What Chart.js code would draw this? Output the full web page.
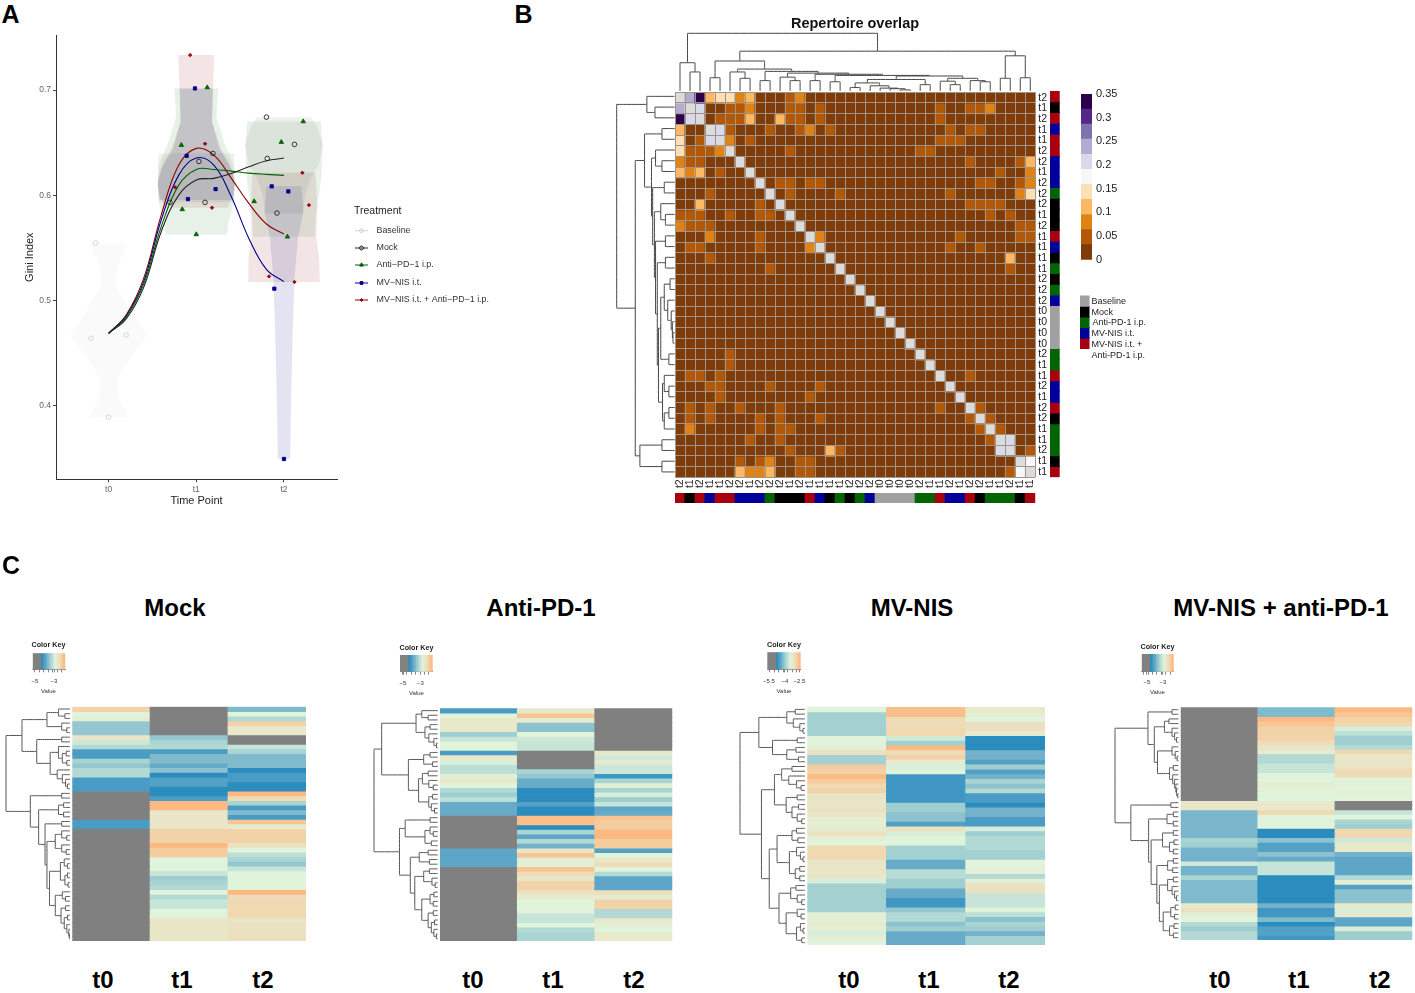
<!DOCTYPE html>
<html>
<head>
<meta charset="utf-8">
<title>Repertoire figure</title>
<script src="https://cdn.jsdelivr.net/npm/chart.js@4"></script>
<style>
  html, body { margin: 0; padding: 0; background: #fff; }
  body { position: relative; width: 1415px; height: 993px; overflow: hidden; font-family: "Liberation Sans", Arial, sans-serif; }
  canvas { position: absolute; }
  .note { position: absolute; white-space: nowrap; line-height: 1; color: #000; }
</style>
</head>
<body>
<script>
// ---------- panel A: Gini index ----------
const timeLabels = ['t0', 't1', 't2'];
const giniTicks = [0.4, 0.5, 0.6, 0.7];
const legendNames = ['Baseline', 'Mock', 'Anti\u2212PD\u22121 i.p.', 'MV\u2212NIS i.t.', 'MV\u2212NIS i.t. + Anti\u2212PD\u22121 i.p.'];

const baselinePoints = [[-0.15, 0.5546], [-0.2, 0.464], [0.2, 0.4672], [0, 0.389]];
const mockPoints = [[0.7, 0.5933], [1.03, 0.6322], [1.19, 0.6398], [1.1, 0.5933], [1.8, 0.6743], [2.12, 0.6484], [1.81, 0.635], [1.92, 0.5831]];
const antiPoints = [[1.125, 0.7025], [0.83, 0.6477], [0.84, 0.5866], [1.0, 0.5628], [2.22, 0.6702], [1.97, 0.6506], [1.66, 0.5942], [2.04, 0.5606]];
const mvPoints = [[0.985, 0.7016], [0.89, 0.6376], [1.22, 0.6059], [0.905, 0.5964], [1.86, 0.6085], [2.05, 0.6037], [1.89, 0.5112], [2.0, 0.3493]];
const comboPoints = [[0.93, 0.7333], [1.1, 0.649], [0.76, 0.6075], [1.18, 0.5882], [2.21, 0.6214], [2.285, 0.5907], [1.83, 0.5229], [2.12, 0.5176]];

const curveX = [0, 0.2, 0.4, 0.6, 0.8, 1, 1.2, 1.4, 1.6, 1.8, 2];
const mockCurve = [0.4688, 0.4824, 0.5125, 0.5654, 0.6002, 0.6145, 0.6161, 0.6208, 0.6271, 0.6328, 0.6354];
const antiCurve = [0.4688, 0.484, 0.5156, 0.5701, 0.6097, 0.6246, 0.6246, 0.623, 0.6211, 0.6199, 0.6189];
const mvCurve = [0.4688, 0.4852, 0.5179, 0.5765, 0.6192, 0.6354, 0.6287, 0.5986, 0.559, 0.5296, 0.5179];
const comboCurve = [0.4688, 0.4862, 0.521, 0.5812, 0.6287, 0.6446, 0.6382, 0.6161, 0.5923, 0.5727, 0.5632];

// violins: [gini, half width in time units]
const violinBaseT0 = [[0.5546, 0.22], [0.53, 0.09], [0.512, 0.09], [0.49, 0.25], [0.467, 0.44], [0.44, 0.2], [0.425, 0.09], [0.41, 0.1], [0.389, 0.22]];
const violinMockT1 = [[0.6398, 0.43], [0.625, 0.44], [0.61, 0.44], [0.5933, 0.43]];
const violinAntiT1 = [[0.7016, 0.25], [0.675, 0.23], [0.65, 0.32], [0.63, 0.42], [0.61, 0.44], [0.59, 0.42], [0.575, 0.37], [0.5628, 0.35]];
const violinMvT1 = [[0.7016, 0.19], [0.67, 0.18], [0.645, 0.26], [0.625, 0.4], [0.61, 0.44], [0.5955, 0.42]];
const violinComboT1 = [[0.7333, 0.205], [0.7, 0.19], [0.67, 0.18], [0.645, 0.28], [0.63, 0.38], [0.6145, 0.44], [0.6, 0.42], [0.5882, 0.36]];
const violinMockT2 = [[0.6743, 0.31], [0.665, 0.38], [0.648, 0.445], [0.63, 0.4], [0.615, 0.3], [0.6, 0.24], [0.5828, 0.22]];
const violinAntiT2 = [[0.6702, 0.42], [0.648, 0.44], [0.62, 0.43], [0.6, 0.4], [0.58, 0.36], [0.5606, 0.35]];
const violinMvT2 = [[0.6085, 0.2], [0.583, 0.22], [0.56, 0.16], [0.52, 0.12], [0.47, 0.1], [0.4, 0.08], [0.3494, 0.07]];
const violinComboT2 = [[0.6214, 0.36], [0.59, 0.38], [0.56, 0.37], [0.54, 0.4], [0.525, 0.41], [0.5176, 0.41]];

// ---------- panel B: repertoire overlap ----------
const sampleTimes = ['t2','t1','t2','t1','t1','t2','t2','t1','t2','t2','t2','t1','t2','t1','t1','t1','t1','t2','t2','t2','t0','t0','t0','t0','t2','t1','t1','t2','t1','t2','t2','t1','t1','t2','t1','t1'];
const sampleGroups = ['combo','mock','combo','mv','combo','combo','mv','mv','mv','anti','mock','mock','mock','combo','mv','mock','anti','mock','anti','mv','base','base','base','base','anti','anti','combo','mv','mv','combo','mock','anti','anti','anti','mock','combo'];
const overlapBackground = 0.015;
// [row, [col, value], ...] for every cell that is not background
const overlapRows = [
  [0, [1,.24],[2,.34],[3,.11],[4,.14],[5,.14],[6,.08],[7,.11],[11,.05],[12,.08]],
  [1, [0,.24],[2,.2],[5,.05],[6,.05],[7,.08],[11,.05],[12,.05],[14,.05],[26,.05],[29,.05],[30,.05],[31,.08]],
  [2, [0,.34],[1,.2],[4,.05],[5,.05],[6,.05],[7,.11],[10,.11],[11,.05],[12,.05],[14,.05],[26,.05]],
  [3, [0,.11],[4,.2],[5,.05],[9,.05],[12,.05],[13,.08],[15,.05],[27,.05],[29,.05],[30,.05]],
  [4, [0,.14],[2,.05],[3,.2],[5,.08],[7,.05],[26,.05],[27,.05],[28,.05]],
  [5, [0,.14],[1,.05],[2,.05],[3,.05],[4,.08],[11,.05],[24,.05],[25,.05]],
  [6, [0,.08],[1,.05],[2,.05],[29,.05],[34,.05],[35,.11]],
  [7, [0,.11],[1,.08],[2,.11],[4,.05],[32,.05],[35,.08]],
  [8, [10,.05],[11,.05],[13,.05],[14,.05],[30,.05],[31,.05],[34,.05],[35,.08]],
  [9, [3,.05],[11,.05],[16,.05],[27,.05],[34,.08],[35,.14]],
  [10, [2,.11],[8,.05],[29,.05],[30,.05],[31,.05],[32,.05]],
  [11, [0,.05],[1,.05],[2,.05],[5,.05],[8,.05],[9,.05],[31,.05],[33,.05]],
  [12, [0,.08],[1,.05],[2,.05],[3,.05],[34,.05],[35,.05]],
  [13, [3,.08],[8,.05],[14,.08],[28,.05],[34,.05],[35,.05]],
  [14, [1,.05],[2,.05],[8,.05],[13,.08],[27,.05],[30,.05]],
  [15, [3,.05],[33,.11]],
  [16, [9,.05],[33,.05]],
  [24, [5,.05]],
  [25, [5,.05]],
  [26, [1,.05],[2,.05],[4,.05],[29,.05]],
  [27, [3,.05],[4,.05],[9,.05],[14,.05]],
  [28, [4,.05],[13,.05]],
  [29, [1,.05],[3,.05],[6,.05],[10,.05],[26,.05],[30,.05]],
  [30, [1,.05],[3,.05],[8,.05],[10,.05],[14,.05],[29,.05],[31,.05]],
  [31, [1,.08],[8,.05],[10,.05],[11,.05],[30,.05],[32,.05]],
  [32, [7,.05],[10,.05],[31,.05],[33,.2]],
  [33, [11,.05],[15,.11],[16,.05],[32,.2],[35,.05]],
  [34, [6,.05],[8,.05],[9,.08],[12,.05],[13,.05],[35,.17]],
  [35, [6,.11],[7,.08],[8,.08],[9,.11],[12,.05],[13,.05],[33,.05],[34,.17]]
];
const overlapTicks = [0, 0.05, 0.1, 0.15, 0.2, 0.25, 0.3, 0.35];
const overlapColors = ['#7f3b08','#b35806','#e08214','#fdb863','#fee0b6','#f7f7f7','#d8daeb','#b2abd2','#8073ac','#542788','#2d004b'];
const groupKeys = ['base', 'mock', 'anti', 'mv', 'combo'];

// dendrograms: [height, left, right], 0 is a leaf
const overlapLeftTree = [100, [48,0,[34,0,0]],
  [68,
    [52, [22,0,0],
      [40, [33,0,[22,0,0]],
        [38, [18,0,0],
          [35, [24,0,[16,0,0]],
            [33, [16,0,0],
              [30, [16,0,0],
                [28,
                  [24, [18,[8,0,0],[12,0,[6,0,[4,0,[3,0,0]]]]], [10,0,0]],
                  [21, [18,0,[10,0,0]], [18,[10,0,0],0]]
                ]]]]]]],
    [60, [22,0,0], [22,0,0]]]];
const overlapTopTree = [100, [49,0,[33,0,0]],
  [69,
    [52, [23,0,0],
      [38, [33,0,[22,0,0]],
        [34, [18,0,0],
          [31, [24,0,[18,0,0]],
            [29, [18,0,0],
              [27, [16,0,0],
                [26,
                  [20, [14,[6,0,0],[9,0,[5,0,[4,0,[2,0,0]]]]], [11,0,0]],
                  [22, [17,0,[11,0,0]], [18,0,[16,0,0]]]
                ]]]]]]],
    [61, [22,0,0], [23,0,0]]]];

// ---------- panel C: clonotype heatmaps, null is the grey "absent" colour ----------
const _ = null;
const mockT0 = [-2.7,-3.2,-3.1,-4,-4,-4,-2.9,-3.4,-3.7,-4.7,
  -4.7,-3.8,-4,-3.7,-3.7,-4.7,-4.7,-4.7,_,_,
  _,_,_,_,-4.7,-4.7,_,_,_,_,
  _,_,_,_,_,_,_,_,_,_,
  _,_,_,_,_,_,_,_,_,_];
const mockT1 = [_,_,_,_,_,_,-4,-3.8,-3.7,-4.7,
  -4.2,-4.2,-4.4,-4.1,-5,-4.6,-4.6,-5,-5,-4.7,
  -2.5,-2.5,-2.9,-2.9,-2.9,-2.9,-2.7,-2.7,-2.7,-2.5,
  -2.65,-2.65,-3.2,-3.2,-3.2,-3.5,-3.9,-3.8,-3.7,-3.2,
  -3.7,-3.5,-3.5,-3.2,-3.2,-2.9,-2.9,-2.9,-2.9,-2.9];
const mockT2 = [-4.2,-3.2,-3.7,-2.7,-2.95,-2.95,_,_,-3.5,-3.8,
  -4.2,-4.2,-4.2,-5,-4.7,-4.7,-5,-5,-2.5,-2.8,
  -3.8,-4.7,-4.2,-4.7,-2.6,-3,-2.7,-2.7,-2.7,-2.85,
  -3.2,-3.6,-3.8,-4,-3.5,-3.2,-3.2,-3.2,-3.2,-2.5,
  -2.8,-2.75,-2.75,-2.75,-2.75,-2.9,-2.85,-2.85,-2.85,-2.85];
const antiT0 = [-4.7,-3.2,-2.95,-2.95,-2.95,-3.9,-3.5,-3.2,-3.2,-4.7,
  -2.95,-3.3,-3.6,-3.6,-3.1,-2.95,-3.2,-3.7,-3.9,-3.6,
  -4.4,-4.4,-4.4,_,_,_,_,_,_,_,
  -4.5,-4.5,-4.5,-4.5,_,_,_,_,_,_,
  _,_,_,_,_,_,_,_,_,_];
const antiT1 = [-2.95,-2.6,-3,-4.1,-4.1,-3.2,-3.4,-3.5,-3.5,_,
  _,_,_,-3.8,-4,-4.4,-4.4,-5,-5,-5,
  -4.6,-5,-5,-2.55,-2.55,-5,-3.8,-4.5,-3.7,-4.3,
  -2.9,-2.6,-3.1,-3.1,-2.6,-2.8,-2.9,-2.7,-2.7,-2.85,
  -3,-3.2,-3.2,-3.2,-3.5,-3.5,-3.2,-3.7,-3.8,-3.8];
const antiT2 = [_,_,_,_,_,_,_,_,_,-2.95,
  -3.4,-3,-3.45,-3.45,-4.8,-3.8,-3.1,-3.8,-3.3,-3.9,
  -3.5,-4.5,-4.4,-2.6,-2.65,-2.65,-2.5,-2.5,-2.65,-2.65,
  -4.6,-3.2,-2.9,-2.8,-3.2,-3.7,-4.5,-4.5,-4.5,-2.85,
  -3,-2.7,-2.7,-3.7,-3.7,-2.95,-3.1,-3.2,-2.95,-2.95];
const mvT0 = [-3.2,-3.85,-3.85,-3.85,-3.85,-3.85,-3.2,-3.2,-3.1,-2.85,
  -3.85,-3.85,-2.65,-2.7,-2.5,-2.65,-2.75,-2.7,-2.9,-2.9,
  -2.9,-2.85,-2.9,-3.05,-3.05,-3,-2.85,-3.05,-3.2,-2.75,
  -2.75,-2.75,-2.9,-2.9,-2.9,-2.9,-3.3,-3.85,-3.85,-3.85,
  -3.85,-3.85,-3.85,-3.1,-3.1,-3,-3.1,-3.3,-3.05,-3.2];
const mvT1 = [-2.55,-2.55,-2.8,-2.8,-2.75,-2.75,-3.4,-3.85,-2.5,-2.8,
  -2.7,-3,-3.3,-3.2,-4.8,-4.8,-4.8,-4.8,-4.8,-4.8,
  -3.9,-3.9,-4.1,-4.1,-4.6,-2.85,-3.3,-3.2,-3.2,-3.85,
  -3.85,-3.85,-4.4,-4.4,-3.65,-3.65,-3.9,-3.9,-4.4,-4.4,
  -4.8,-4.8,-4,-3.7,-3.7,-4.1,-3.9,-4.4,-4.4,-4.4];
const mvT2 = [-2.95,-3.05,-3.2,-2.85,-2.85,-3,-5,-5,-5,-4.3,
  -4.3,-4.6,-3.9,-4.6,-4.3,-3.8,-4.1,-3.7,-4.7,-4.7,
  -5,-4.3,-4.3,-4.7,-4.7,-3.3,-3.9,-3.7,-3.7,-3.7,
  -3.85,-3.85,-3.2,-3.2,-3.1,-3.7,-3.1,-2.85,-2.85,-3.5,
  -3.5,-3.5,-3.2,-3.6,-4.1,-3.8,-3.9,-4.3,-3.85,-3.85];
const comboT0 = [_,_,_,_,_,_,_,_,_,_,
  _,_,_,_,_,_,_,_,_,_,
  -2.9,-2.9,-4.25,-4.25,-4.25,-4.25,-4.25,-4.25,-3.8,-3.85,
  -4.3,-4.3,-4.3,-3.4,-4.3,-4.3,-3.8,-4.2,-4.2,-4.2,
  -4.2,-4.2,-2.95,-2.85,-3.1,-3.2,-3.7,-3.9,-3.7,-3.7];
const comboT1 = [-4.2,-4.2,-2.5,-2.6,-2.7,-2.7,-2.7,-2.8,-2.9,-3,
  -3.7,-3.7,-3.5,-3.5,-3.2,-3.2,-3.05,-3.15,-3.2,-3.2,
  -2.95,-2.95,-2.75,-3.2,-3.2,-3.2,-5,-5,-4.1,-4.6,
  -4.6,-4.1,-4.4,-3.5,-3.5,-3.5,-5,-5,-5,-5,
  -5,-5,-4.3,-4.8,-4.8,-4.2,-5,-4.6,-4.6,-4.8];
const comboT2 = [-2.5,-2.6,-2.7,-2.75,-3.3,-3.6,-3.9,-3.9,-3.7,-2.75,
  -2.9,-2.9,-2.9,-2.8,-2.8,-3.15,-3.15,-3.2,-3.1,-3.2,
  _,_,-3.5,-3.2,-3.8,-3.9,-2.75,-2.75,-3.4,-2.95,
  -2.95,-4.3,-4.5,-4.5,-4.5,-4.5,-3.7,-3.1,-4.6,-4.1,
  -4.1,-4.1,-2.95,-3.3,-3,-4.5,-4.5,-3.3,-3.9,-3.9];

const keyLevels = [_,_,_,_,_,_,-5,-4.8,-4.6,-4.4,-4.2,-4,-3.8,-3.6,-3.4,-3.2,-3,-2.9,-2.8,-2.7,-2.6,-2.5];

const mockTree = [100,
  [75, [36,[18,0,[8,0,0]],[13,0,[5,0,0]]],
    [52, [13,0,0], [31,[18,0,[12,[6,0,0],[5,0,0]]],[20,0,[12,0,[7,0,[4,0,0]]]]]]],
  [62, [13,0,0],
    [49, [18,[10,0,0],[10,0,0]],
      [39, [13,0,0],
        [36, [23,[13,0,[5,0,0]],[13,0,[6,0,0]]],
          [32, [15,[9,0,[4,0,0]],[8,[4,0,0],[3,0,0]]],
            [23, [12,0,[7,0,0]], [14,[7,0,0],[9,[4,0,0],[5,0,[2,0,[1,0,0]]]]]]]]]]]];
const antiTree = [100,
  [88, [34,[25,0,[15,0,0]],[20,[12,0,0],[14,0,[6,0,[2,0,0]]]]],
    [46, [22,[12,0,0],[8,0,0]],
      [30, [24,[15,0,0],[14,0,[7,0,0]]], [14,[8,0,0],[10,0,[5,0,0]]]]]],
  [60, [51,[12,0,0],[20,[12,0,[7,0,0]],[10,0,0]]],
    [43, [29,[15,0,0],[13,0,0]],
      [36, [22,[13,0,0],[9,0,[4,0,0]]],
        [25, [12,[6,0,0],[7,0,0]], [15,[7,0,0],[10,[5,0,0],[6,0,[2,0,0]]]]]]]]];
const mvTree = [100,
  [71, [28,[15,0,0],[18,0,[8,0,[3,0,0]]]],
    [50, [12,0,0], [28,[14,0,0],[10,0,0]]]],
  [67, [47, [36,[20,0,0],[25,0,[13,0,[6,0,0]]]], [29,[12,0,0],[20,[10,0,0],[12,0,[5,0,0]]]]],
    [55, [43, [20,[13,0,0],[11,0,0]], [24,[13,0,[7,0,[3,0,0]]],[15,[8,0,0],[8,0,0]]]],
      [40, [22,[14,0,0],[12,0,[5,0,0]]], [29,[12,0,[6,0,0]],[13,[7,0,[3,0,0]],[5,0,0]]]]]]];
const comboTree = [100,
  [48, [10,0,0],
    [38, [22,[15,0,0],[10,0,[6,0,[3,0,0]]]],
      [33, [10,0,[5,0,[2,0,0]]], [14,[8,0,0],[9,0,[6,0,[4,0,[3,0,[1,0,0]]]]]]]]],
  [75, [12,0,0],
    [47, [18,[8,0,0],[8,0,0]],
      [43, [25,[8,0,0],[14,[7,0,0],[8,0,0]]],
        [34, [17,[8,0,0],[9,0,0]],
          [30, [17,[8,0,0],[10,0,[6,0,[3,0,0]]]],
            [24,[12,[5,0,0],[6,0,0]],[14,[7,0,0],[8,0,0]]]]]]]]];

// ---------- styles ----------
const FONT = '"Liberation Sans", Arial, sans-serif';
Chart.defaults.font.family = FONT;
Chart.defaults.responsive = false;
Chart.defaults.animation = false;
Chart.defaults.plugins.legend.display = false;
Chart.defaults.plugins.tooltip.enabled = false;

const groupColors = { base: '#a0a0a0', mock: '#000000', anti: '#006400', mv: '#00009b', combo: '#a8000f' };
const NA_OVERLAP = '#dcdcdc';
const GRID = '#9f948a';
const ABSENT = '#808080';
const levelStops = [[-5,[43,140,190]],[-4.7,[74,156,197]],[-4.4,[104,171,201]],[-4.1,[140,193,207]],[-3.8,[168,212,210]],
  [-3.5,[198,228,216]],[-3.2,[224,243,219]],[-2.9,[233,230,200]],[-2.7,[242,211,168]],[-2.5,[253,185,130]]];

function levelColor(v) {
  if (v === null) return ABSENT;
  for (let i = 1; i < levelStops.length; i++) {
    if (v <= levelStops[i][0]) {
      const [a, ca] = levelStops[i - 1], [b, cb] = levelStops[i];
      const t = (v - a) / (b - a);
      return 'rgb(' + ca.map((c, k) => Math.round(c + (cb[k] - c) * t)).join(',') + ')';
    }
  }
  return 'rgb(253,185,130)';
}
function overlapColor(v) {
  if (v === null) return NA_OVERLAP;
  return overlapColors[Math.min(10, Math.floor(v / (0.35 / 11)))];
}

// ---------- helpers ----------
// rect is the plot area in page pixels; axes is the room kept for axes, outer a margin round them
function makeCanvas(rect, axes, outer) {
  const ax = Object.assign({ l: 0, t: 0, r: 0, b: 0 }, axes);
  const ou = Object.assign({ l: 2, t: 2, r: 2, b: 2 }, outer);
  const left = Math.floor(rect.x - ax.l - ou.l), top = Math.floor(rect.y - ax.t - ou.t);
  const w = Math.ceil(rect.x + rect.w + ax.r + ou.r) - left, h = Math.ceil(rect.y + rect.h + ax.b + ou.b) - top;
  const c = document.createElement('canvas');
  c.width = w; c.height = h;
  c.style.left = left + 'px'; c.style.top = top + 'px';
  c.style.width = w + 'px'; c.style.height = h + 'px';
  document.body.appendChild(c);
  return { canvas: c, padding: {
    left: rect.x - ax.l - left, top: rect.y - ax.t - top,
    right: left + w - (rect.x + rect.w + ax.r), bottom: top + h - (rect.y + rect.h + ax.b) } };
}
function note(text, x, y, css, anchor) {
  const d = document.createElement('div');
  d.className = 'note';
  d.textContent = text;
  d.style.cssText = 'left:' + x + 'px;top:' + y + 'px;transform:translate(' + (anchor === 'l' ? '0' : '-50%') + ',-50%);' + (css || '');
  document.body.appendChild(d);
}
function pts(pairs) { return pairs.map(p => ({ x: p[0], y: p[1] })); }

// rows of colours as a stacked bar chart, every cell one unit tall
function cellChart(rect, rows, extra) {
  extra = extra || {};
  const c = makeCanvas(rect, extra.axes, extra.outer);
  return new Chart(c.canvas, {
    type: 'bar',
    data: {
      labels: extra.xLabels || rows[0].map((v, i) => i),
      datasets: rows.map(colors => ({
        data: colors.map(() => 1), backgroundColor: colors, borderWidth: 0, inflateAmount: 0.5,
        barPercentage: 1, categoryPercentage: 1, stack: 's'
      }))
    },
    options: {
      layout: { padding: c.padding },
      scales: Object.assign({
        x: { stacked: true, display: false },
        y: { stacked: true, display: false, reverse: true, min: 0, max: rows.length }
      }, extra.scales || {})
    }
  });
}

function treeChart(rect, tree, side, color) {
  const segs = [];
  let leaf = 0;
  (function walk(n) {
    if (n === 0) return { pos: leaf++, h: 0 };
    const a = walk(n[1]), b = walk(n[2]);
    segs.push([a.pos, a.h], [a.pos, n[0]], [b.pos, n[0]], [b.pos, b.h], [NaN, NaN]);
    return { pos: (a.pos + b.pos) / 2, h: n[0] };
  })(tree);
  const leafAxis = { display: false, min: -0.5, max: leaf - 0.5 };
  const heightAxis = { display: false, min: 0, max: 100 };
  const isLeft = side === 'left';
  const c = makeCanvas(rect);
  return new Chart(c.canvas, {
    type: 'scatter',
    data: { datasets: [{
      data: segs.map(s => isLeft ? { x: s[1], y: s[0] } : { x: s[0], y: s[1] }),
      showLine: true, pointRadius: 0, borderColor: color, borderWidth: 1, tension: 0.0001, clip: false
    }] },
    options: {
      layout: { padding: c.padding },
      scales: isLeft
        ? { x: Object.assign({ reverse: true }, heightAxis), y: Object.assign({ reverse: true }, leafAxis) }
        : { x: leafAxis, y: heightAxis }
    }
  });
}

// ---------- panel A ----------
function violin(center, shape, color) {
  const right = shape.map(s => ({ x: center + s[1], y: s[0] }));
  const left = shape.slice().reverse().map(s => ({ x: center - s[1], y: s[0] }));
  return { data: right.concat(left), showLine: true, fill: 'shape', pointRadius: 0, borderWidth: 0, backgroundColor: color, borderColor: 'transparent' };
}
const treatments = [
  { points: baselinePoints, curve: null, color: '#d2d2d2', style: 'circle', r: 2.3, fill: 'rgba(0,0,0,0)' },
  { points: mockPoints, curve: mockCurve, color: '#222222', style: 'circle', r: 2.3, fill: 'rgba(0,0,0,0)' },
  { points: antiPoints, curve: antiCurve, color: '#006400', style: 'triangle', r: 2.6, fill: '#006400' },
  { points: mvPoints, curve: mvCurve, color: '#00008b', style: 'rect', r: 2.3, fill: '#00008b' },
  { points: comboPoints, curve: comboCurve, color: '#8b0000', style: 'rectRot', r: 1.7, fill: '#a8000f' }
];
const violinFills = { base: 'rgba(120,120,120,0.04)', mock: 'rgba(0,0,0,0.06)', anti: 'rgba(0,100,0,0.09)', mv: 'rgba(0,0,139,0.11)', combo: 'rgba(139,0,0,0.1)' };

const legendMarks = {
  id: 'legendMarks',
  afterDraw(chart) {
    const ctx = chart.ctx, off = chart.canvas.getBoundingClientRect();
    const rows = [230.7, 248, 265, 283, 300];
    ctx.save();
    ctx.font = '10.5px ' + FONT;
    ctx.fillStyle = '#222';
    ctx.textBaseline = 'middle';
    ctx.fillText('Treatment', 354 - off.left, 211.5 - off.top);
    ctx.font = '8.9px ' + FONT;
    rows.forEach((y, i) => {
      const t = treatments[i], py = y - off.top;
      ctx.strokeStyle = t.color;
      ctx.lineWidth = 1;
      ctx.beginPath(); ctx.moveTo(355 - off.left, py); ctx.lineTo(368 - off.left, py); ctx.stroke();
      ctx.fillStyle = t.fill;
      Chart.helpers.drawPoint(ctx, { pointStyle: t.style, radius: t.r * 0.85, borderWidth: 1, rotation: 0 }, 361.5 - off.left, py);
      ctx.fillStyle = '#333';
      ctx.fillText(legendNames[i], 376.5 - off.left, py);
    });
    ctx.restore();
  }
};

(function drawPanelA() {
  const rect = { x: 56, y: 35, w: 281, h: 444.3 };
  const c = makeCanvas(rect, { l: 33, b: 28 }, { r: 170, t: 12 });
  const pointSets = treatments.map(t => ({
    data: pts(t.points), pointStyle: t.style, pointRadius: t.r, pointBorderWidth: 0.9,
    pointBorderColor: t.color, pointBackgroundColor: t.fill, order: 0
  }));
  const curves = treatments.filter(t => t.curve).map(t => ({
    data: t.curve.map((y, i) => ({ x: curveX[i], y: y })),
    showLine: true, pointRadius: 0, borderColor: t.color, borderWidth: 1.1, tension: 0.4, order: 1
  }));
  const violins = [
    violin(0, violinBaseT0, violinFills.base),
    violin(1, violinMockT1, violinFills.mock), violin(1, violinAntiT1, violinFills.anti),
    violin(1, violinMvT1, violinFills.mv), violin(1, violinComboT1, violinFills.combo),
    violin(2, violinMockT2, violinFills.mock), violin(2, violinAntiT2, violinFills.anti),
    violin(2, violinMvT2, violinFills.mv), violin(2, violinComboT2, violinFills.combo)
  ].map(v => Object.assign(v, { order: 2 }));
  new Chart(c.canvas, {
    type: 'scatter',
    data: { datasets: pointSets.concat(curves, violins) },
    plugins: [legendMarks],
    options: {
      layout: { padding: c.padding },
      scales: {
        x: {
          type: 'linear', min: -0.6, max: 2.605,
          afterBuildTicks(s) { s.ticks = timeLabels.map((t, i) => ({ value: i })); },
          afterFit(s) { s.height = 28; },
          ticks: { font: { size: 8.5 }, color: '#666', padding: 2, callback: v => timeLabels[v] },
          grid: { drawOnChartArea: false, tickLength: 3, tickColor: '#444' },
          border: { color: '#333', width: 1 },
          title: { display: true, text: 'Time Point', font: { size: 11 }, color: '#222', padding: { top: 1, bottom: 0 } }
        },
        y: {
          min: 0.33, max: 0.7524,
          afterBuildTicks(s) { s.ticks = giniTicks.map(v => ({ value: v })); },
          afterFit(s) { s.width = 33; },
          ticks: { font: { size: 8.5 }, color: '#666', padding: 2, callback: v => v.toFixed(1) },
          grid: { drawOnChartArea: false, tickLength: 3, tickColor: '#444' },
          border: { color: '#333', width: 1 },
          title: { display: true, text: 'Gini Index', font: { size: 11 }, color: '#222', padding: { top: 0, bottom: 0 } }
        }
      }
    }
  });
})();

// ---------- panel B ----------
(function drawPanelB() {
  const n = sampleTimes.length;
  const heat = { x: 675, y: 91, w: 360.3, h: 386.3 };
  const values = sampleTimes.map((t, r) => sampleTimes.map((s, k) => (r === k ? null : overlapBackground)));
  overlapRows.forEach(row => row.slice(1).forEach(cell => { values[row[0]][cell[0]] = cell[1]; }));
  const gridOpts = { color: GRID, lineWidth: 1, z: 1, drawTicks: false };

  cellChart(heat, values.map(r => r.map(overlapColor)), {
    xLabels: sampleTimes,
    axes: { r: 14, b: 13 }, outer: { l: 8, t: 8, b: 2, r: 2 },
    scales: {
      x: {
        stacked: true,
        grid: Object.assign({ offset: true }, gridOpts), border: { display: false },
        afterFit(s) { s.height = 13; },
        ticks: { autoSkip: false, minRotation: 90, maxRotation: 90, font: { size: 10.5 }, color: '#222', padding: 2 }
      },
      y: {
        stacked: true, reverse: true, min: 0, max: n,
        grid: gridOpts, border: { display: false },
        ticks: { display: false, stepSize: 1 },
        afterFit(s) { s.width = 0; }
      },
      side: {
        type: 'category', position: 'right', labels: sampleTimes, offset: true,
        grid: { display: false, drawTicks: false }, border: { display: false },
        afterFit(s) { s.width = 14; },
        ticks: { autoSkip: false, font: { size: 10.5 }, color: '#222', padding: 3 }
      }
    }
  });

  treeChart({ x: 616.7, y: 91, w: 58, h: 386.3 }, overlapLeftTree, 'left', '#444');
  treeChart({ x: 675, y: 33.3, w: 360.3, h: 57.7 }, overlapTopTree, 'top', '#444');

  const stripColors = sampleGroups.map(g => groupColors[g]);
  cellChart({ x: 1050, y: 91, w: 9.7, h: 386.3 }, stripColors.map(col => [col]));
  cellChart({ x: 675, y: 493, w: 360.3, h: 10 }, [stripColors]);

  // colour scale
  const binWidth = 0.35 / overlapColors.length;
  const bar = makeCanvas({ x: 1081, y: 94, w: 11, h: 165.7 }, { r: 40 }, { t: 12, b: 12 });
  new Chart(bar.canvas, {
    type: 'bar',
    data: { labels: [''], datasets: overlapColors.map(col => ({ data: [binWidth], backgroundColor: col, barPercentage: 1, categoryPercentage: 1, borderWidth: 0 })) },
    options: {
      layout: { padding: bar.padding },
      scales: {
        x: { stacked: true, display: false },
        y: {
          stacked: true, position: 'right', min: 0, max: 0.35,
          afterBuildTicks(s) { s.ticks = overlapTicks.map(v => ({ value: v })); },
          afterFit(s) { s.width = 40; },
          grid: { display: false, drawTicks: false }, border: { display: false },
          ticks: { font: { size: 11 }, color: '#222', padding: 4, callback: v => String(v) }
        }
      }
    }
  });

  // group legend
  cellChart({ x: 1080, y: 295.5, w: 9.5, h: 53.5 }, groupKeys.map(g => [groupColors[g]]));
  const groupCss = 'font-size:9px;color:#222;';
  note('Baseline', 1091.5, 300.5, groupCss, 'l');
  note('Mock', 1091.5, 311.7, groupCss, 'l');
  note('Anti-PD-1 i.p.', 1092.5, 322, groupCss, 'l');
  note('MV-NIS i.t.', 1091.5, 333, groupCss, 'l');
  note('MV-NIS i.t. +', 1091.5, 343.5, groupCss, 'l');
  note('Anti-PD-1 i.p.', 1091.5, 354.5, groupCss, 'l');

  note('Repertoire overlap', 855, 22.5, 'font-size:14.5px;font-weight:bold;color:#111;');
})();

// ---------- panel C ----------
const heatPanels = [
  { title: 'Mock', titleX: 175, columns: [mockT0, mockT1, mockT2], tree: mockTree,
    heat: { x: 72.3, y: 706.7, w: 233.7, h: 234.3 }, treeLeft: 6, labelXs: [103, 182, 263],
    key: { x: 32.7, y: 653.3, w: 32.6, h: 16 }, keyTitle: [48.5, 645.3], keyTicks: [[1, '\u22125', 35], [14, '\u22123', 54]], keyLabelY: 681, valueY: 691 },
  { title: 'Anti-PD-1', titleX: 541, columns: [antiT0, antiT1, antiT2], tree: antiTree,
    heat: { x: 440, y: 708.3, w: 232.3, h: 232.7 }, treeLeft: 374, labelXs: [473, 553, 634],
    key: { x: 400, y: 655, w: 32.7, h: 16.7 }, keyTitle: [416.5, 647.5], keyTicks: [[2, '\u22125', 403], [13, '\u22123', 420.5]], keyLabelY: 682.5, valueY: 692.5 },
  { title: 'MV-NIS', titleX: 912, columns: [mvT0, mvT1, mvT2], tree: mvTree,
    heat: { x: 807.3, y: 707, w: 237.7, h: 238 }, treeLeft: 740, labelXs: [849, 929, 1009],
    key: { x: 767.3, y: 652.3, w: 33.4, h: 17 }, keyTitle: [784, 645], keyTicks: [[1, '\u22125.5', 769], [11, '\u22124', 785], [21, '\u22122.5', 799.5]], keyLabelY: 681, valueY: 691 },
  { title: 'MV-NIS + anti-PD-1', titleX: 1281, columns: [comboT0, comboT1, comboT2], tree: comboTree,
    heat: { x: 1180.7, y: 707.3, w: 231.6, h: 232.7 }, treeLeft: 1115, labelXs: [1220, 1299, 1380],
    key: { x: 1141.7, y: 654, w: 32, h: 17.7 }, keyTitle: [1157.5, 647], keyTicks: [[3, '\u22125', 1147], [14, '\u22123', 1163]], keyLabelY: 682, valueY: 692 }
];

function keyChart(p) {
  const c = makeCanvas(p.key, { b: 5 }, { b: 1 });
  const tickAt = p.keyTicks.map(t => t[0]);
  new Chart(c.canvas, {
    type: 'bar',
    data: { labels: keyLevels.map((v, i) => i), datasets: [{
      data: keyLevels.map(() => 1), backgroundColor: keyLevels.map(levelColor),
      barPercentage: 1, categoryPercentage: 1, borderWidth: 0
    }] },
    options: {
      layout: { padding: c.padding },
      scales: {
        x: {
          afterFit(s) { s.height = 5; },
          ticks: { display: false },
          border: { display: true, color: '#333', width: 0.6 },
          grid: { offset: false, drawOnChartArea: false, tickLength: 3, tickWidth: 0.6,
            tickColor: ctx => (ctx.index % 3 === 1 || tickAt.indexOf(ctx.index) >= 0 ? '#333' : 'rgba(0,0,0,0)') }
        },
        y: { display: false, min: 0, max: 1 }
      }
    }
  });
}

heatPanels.forEach(p => {
  const rowsCount = p.columns[0].length;
  const rows = [];
  for (let r = 0; r < rowsCount; r++) rows.push(p.columns.map(col => levelColor(col[r])));
  cellChart(p.heat, rows);
  treeChart({ x: p.treeLeft, y: p.heat.y, w: p.heat.x - 2.3 - p.treeLeft, h: p.heat.h }, p.tree, 'left', '#555');
  keyChart(p);
  note(p.title, p.titleX, 608, 'font-size:24px;font-weight:bold;');
  timeLabels.forEach((t, i) => note(t, p.labelXs[i], 980, 'font-size:24px;font-weight:bold;'));
  note('Color Key', p.keyTitle[0], p.keyTitle[1], 'font-size:7.2px;font-weight:bold;color:#222;');
  p.keyTicks.forEach(t => note(t[1], t[2], p.keyLabelY, 'font-size:6px;color:#333;'));
  note('Value', p.keyTitle[0], p.valueY, 'font-size:6px;color:#333;');
});

// panel letters
note('A', 10.5, 14, 'font-size:25px;font-weight:bold;');
note('B', 523.5, 14, 'font-size:25px;font-weight:bold;');
note('C', 11, 565, 'font-size:25px;font-weight:bold;');
</script>
</body>
</html>
